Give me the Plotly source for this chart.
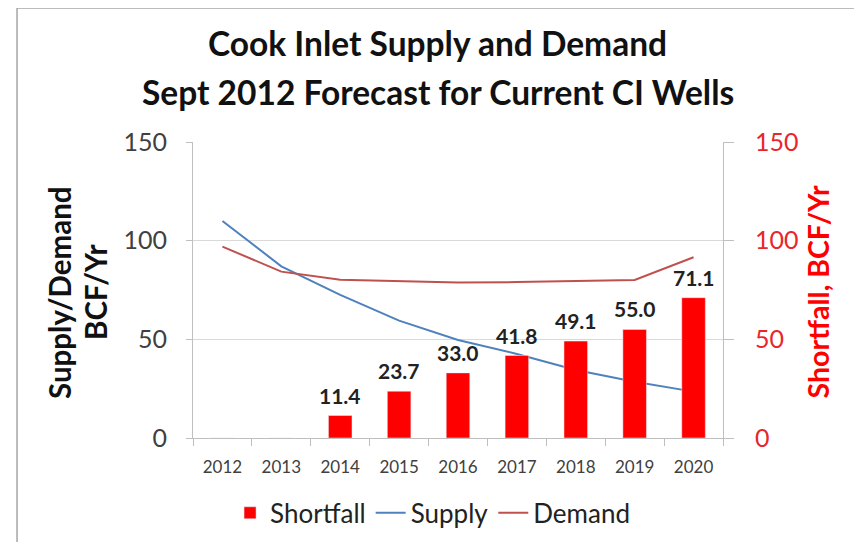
import plotly.graph_objects as go

years = ["2012", "2013", "2014", "2015", "2016", "2017", "2018", "2019", "2020"]
shortfall = [0, 0, 11.4, 23.7, 33.0, 41.8, 49.1, 55.0, 71.1]
shortfall_labels = ["", "", "11.4", "23.7", "33.0", "41.8", "49.1", "55.0", "71.1"]
supply = [110, 87, 72.5, 59.5, 49.7, 42.6, 34.5, 28.5, 23.5]
demand = [97, 84.3, 80.2, 79.6, 78.8, 79.0, 79.6, 80.1, 91.6]

FONT = "Lato"
AXGRAY = "#bfbfbf"
TXT = "#404040"
RED = "#ff0000"

fig = go.Figure()
fig.add_trace(go.Bar(x=years, y=shortfall, name="Shortfall", marker_color=RED,
                     width=0.4, yaxis="y2"))
fig.add_trace(go.Scatter(x=years, y=supply, name="Supply", mode="lines",
                         line=dict(color="#4f81bd", width=2)))
fig.add_trace(go.Scatter(x=years, y=demand, name="Demand", mode="lines",
                         line=dict(color="#c0504d", width=2)))

annotations = []
for i, (v, lab) in enumerate(zip(shortfall, shortfall_labels)):
    if lab:
        annotations.append(dict(x=i, y=v, xref="x", yref="y2", text="<b>%s</b>" % lab,
                                showarrow=False, yanchor="bottom", yshift=6,
                                font=dict(family=FONT, size=21, color="#222222")))

annotations += [
    dict(x=0.462, y=1.334, xref="paper", yref="paper", text="<b>Cook Inlet Supply and Demand</b>",
         showarrow=False, xanchor="center", yanchor="middle",
         font=dict(family=FONT, size=33.5, color="#111111")),
    dict(x=0.462, y=1.17, xref="paper", yref="paper", text="<b>Sept 2012 Forecast for Current CI Wells</b>",
         showarrow=False, xanchor="center", yanchor="middle",
         font=dict(family=FONT, size=33.5, color="#111111")),
    dict(x=-0.253, y=0.493, xref="paper", yref="paper", text="<b>Supply/Demand</b>",
         showarrow=False, textangle=-90, xanchor="center", yanchor="middle",
         font=dict(family=FONT, size=29.5, color="#111111")),
    dict(x=-0.185, y=0.493, xref="paper", yref="paper", text="<b>BCF/Yr</b>",
         showarrow=False, textangle=-90, xanchor="center", yanchor="middle",
         font=dict(family=FONT, size=29.5, color="#111111")),
    dict(x=1.18, y=0.493, xref="paper", yref="paper", text="<b>Shortfall, BCF/Yr</b>",
         showarrow=False, textangle=-90, xanchor="center", yanchor="middle",
         font=dict(family=FONT, size=28.5, color=RED)),
]

fig.update_layout(
    width=862, height=542,
    margin=dict(l=185, r=147, t=134, b=112),
    paper_bgcolor="white", plot_bgcolor="white",
    font=dict(family=FONT, color=TXT),
    showlegend=True,
    legend=dict(orientation="h", x=0.452, y=-0.253, xanchor="center", yanchor="middle",
                font=dict(family=FONT, size=26, color="#222222"), traceorder="normal"),
    xaxis=dict(type="category", range=[-0.5, 8.5], showline=True, linecolor=AXGRAY,
               ticks="outside", tickson="boundaries", ticklen=7, tickcolor=AXGRAY,
               ticklabelstandoff=14,
               tickfont=dict(family=FONT, size=17, color=TXT), showgrid=False),
    yaxis=dict(range=[0, 150], dtick=50, showgrid=True, gridcolor="#d9d9d9",
               showline=True, linecolor=AXGRAY, ticks="outside", ticklen=6, tickcolor=AXGRAY,
               ticklabelstandoff=14,
               tickfont=dict(family=FONT, size=25, color=TXT), zeroline=False),
    yaxis2=dict(range=[0, 150], dtick=50, overlaying="y", side="right", showgrid=False,
                showline=True, linecolor=AXGRAY, ticks="outside", ticklen=10, tickcolor=AXGRAY,
                ticklabelstandoff=16,
                tickfont=dict(family=FONT, size=25, color="#e8262b"), zeroline=False),
    annotations=annotations,
    shapes=[dict(type="rect", xref="paper", yref="paper", x0=-0.332, x1=1.2547,
                 y0=-0.4, y1=1.4527, line=dict(color="#a6a6a6", width=1.5),
                 fillcolor="rgba(0,0,0,0)", layer="below")],
)

fig.write_html("out.html")
